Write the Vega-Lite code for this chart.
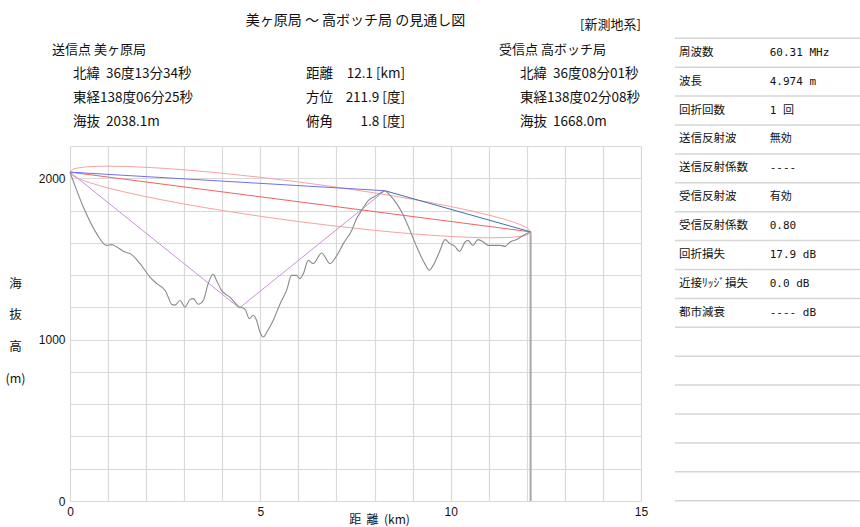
{
  "$schema": "https://vega.github.io/schema/vega-lite/v6.json",
  "width": 571,
  "height": 355,
  "autosize": {"type": "none"},
  "padding": {"left": 70, "top": 146, "right": 219, "bottom": 26},
  "background": "#ffffff",
  "config": {
    "font": "Noto Sans CJK JP",
    "view": {"stroke": null},
    "text": {"font": "Noto Sans CJK JP", "fontSize": 12, "color": "#111111"}
  },
  "datasets": {
    "profile": [
      {"d":0,"h":2038},{"d":0.35,"h":1822},{"d":0.7,"h":1657},{"d":0.96,"h":1584},{"d":1.1,"h":1589},{"d":1.23,"h":1574},{"d":1.44,"h":1543},{"d":1.58,"h":1533},{"d":1.84,"h":1471},{"d":2.1,"h":1388},{"d":2.28,"h":1347},{"d":2.5,"h":1305},{"d":2.58,"h":1264},{"d":2.67,"h":1219},{"d":2.76,"h":1214},{"d":2.89,"h":1243},{"d":3.02,"h":1202},{"d":3.15,"h":1248},{"d":3.24,"h":1254},{"d":3.37,"h":1219},{"d":3.5,"h":1243},{"d":3.63,"h":1347},{"d":3.76,"h":1405},{"d":3.85,"h":1367},{"d":3.98,"h":1305},{"d":4.2,"h":1264},{"d":4.42,"h":1208},{"d":4.6,"h":1188},{"d":4.71,"h":1130},{"d":4.81,"h":1151},{"d":4.9,"h":1120},{"d":4.99,"h":1047},{"d":5.08,"h":1016},{"d":5.17,"h":1047},{"d":5.34,"h":1120},{"d":5.52,"h":1223},{"d":5.69,"h":1305},{"d":5.82,"h":1398},{"d":5.95,"h":1398},{"d":6.04,"h":1378},{"d":6.13,"h":1409},{"d":6.26,"h":1491},{"d":6.39,"h":1471},{"d":6.61,"h":1537},{"d":6.83,"h":1471},{"d":7.01,"h":1522},{"d":7.18,"h":1595},{"d":7.4,"h":1677},{"d":7.53,"h":1750},{"d":7.66,"h":1801},{"d":7.84,"h":1863},{"d":8.06,"h":1894},{"d":8.27,"h":1921},{"d":8.41,"h":1894},{"d":8.58,"h":1843},{"d":8.76,"h":1770},{"d":8.93,"h":1677},{"d":9.11,"h":1574},{"d":9.32,"h":1471},{"d":9.44,"h":1430},{"d":9.54,"h":1460},{"d":9.72,"h":1553},{"d":9.85,"h":1620},{"d":9.98,"h":1595},{"d":10.11,"h":1578},{"d":10.23,"h":1547},{"d":10.38,"h":1605},{"d":10.46,"h":1615},{"d":10.58,"h":1584},{"d":10.72,"h":1620},{"d":10.86,"h":1605},{"d":10.99,"h":1584},{"d":11.3,"h":1584},{"d":11.43,"h":1578},{"d":11.56,"h":1605},{"d":11.73,"h":1620},{"d":11.91,"h":1646},{"d":12.1,"h":1668}
    ],
    "fresnel": [
      {"edge":"upper","d":0,"h":2038.1},{"edge":"upper","d":0.05,"h":2052.3},{"edge":"upper","d":0.1,"h":2057.2},{"edge":"upper","d":0.25,"h":2065.4},{"edge":"upper","d":0.5,"h":2071.6},{"edge":"upper","d":0.75,"h":2074.4},{"edge":"upper","d":1,"h":2075.0},{"edge":"upper","d":1.5,"h":2073.0},{"edge":"upper","d":2,"h":2068.0},{"edge":"upper","d":3,"h":2052.2},{"edge":"upper","d":4,"h":2031.2},{"edge":"upper","d":5,"h":2006.0},{"edge":"upper","d":6,"h":1977.3},{"edge":"upper","d":7,"h":1945.1},{"edge":"upper","d":8,"h":1909.5},{"edge":"upper","d":9,"h":1869.9},{"edge":"upper","d":10,"h":1825.1},{"edge":"upper","d":10.5,"h":1800.0},{"edge":"upper","d":11,"h":1772.1},{"edge":"upper","d":11.5,"h":1739.6},{"edge":"upper","d":11.65,"h":1728.2},{"edge":"upper","d":11.8,"h":1715.3},{"edge":"upper","d":11.95,"h":1699.7},{"edge":"upper","d":12,"h":1693.3},{"edge":"upper","d":12.05,"h":1685.3},{"edge":"upper","d":12.1,"h":1668.0},
      {"edge":"lower","d":0,"h":2038.1},{"edge":"lower","d":0.05,"h":2020.9},{"edge":"lower","d":0.1,"h":2012.8},{"edge":"lower","d":0.25,"h":1995.6},{"edge":"lower","d":0.5,"h":1974.0},{"edge":"lower","d":0.75,"h":1956.0},{"edge":"lower","d":1,"h":1940.0},{"edge":"lower","d":1.5,"h":1911.4},{"edge":"lower","d":2,"h":1885.8},{"edge":"lower","d":3,"h":1840.4},{"edge":"lower","d":4,"h":1800.4},{"edge":"lower","d":5,"h":1764.4},{"edge":"lower","d":6,"h":1731.9},{"edge":"lower","d":7,"h":1702.9},{"edge":"lower","d":8,"h":1677.3},{"edge":"lower","d":9,"h":1655.7},{"edge":"lower","d":10,"h":1639.3},{"edge":"lower","d":10.5,"h":1633.8},{"edge":"lower","d":11,"h":1631.1},{"edge":"lower","d":11.5,"h":1633.0},{"edge":"lower","d":11.65,"h":1635.4},{"edge":"lower","d":11.8,"h":1639.1},{"edge":"lower","d":11.95,"h":1645.5},{"edge":"lower","d":12,"h":1648.9},{"edge":"lower","d":12.05,"h":1653.9},{"edge":"lower","d":12.1,"h":1668.0}
    ],
    "paths": [
      {"series":"los","d":0,"h":2038.1},{"series":"los","d":12.1,"h":1668.0},
      {"series":"reflect","d":0,"h":2038.1},{"series":"reflect","d":4.45,"h":1196},{"series":"reflect","d":8.27,"h":1923},
      {"series":"direct","d":0,"h":2038.1},{"series":"direct","d":8.27,"h":1923},
      {"series":"diffract","d":8.27,"h":1923},{"series":"diffract","d":12.1,"h":1668.0}
    ],
    "stations": [{"name":"受信点","d":12.1,"h":1668.0}],
    "header": [
      {"col":1,"row":-1,"text":"美ヶ原局 〜 高ボッチ局 の見通し図","value":""},
      {"col":2,"row":-1,"text":"[新測地系]","value":""},
      {"col":0,"row":0,"text":"送信点 美ヶ原局","value":""},
      {"col":0,"row":1,"text":"北緯\u00a0\u00a036度13分34秒","value":""},
      {"col":0,"row":2,"text":"東経138度06分25秒","value":""},
      {"col":0,"row":3,"text":"海抜\u00a0\u00a02038.1m","value":""},
      {"col":1,"row":1,"text":"距離","value":"12.1 [km]"},
      {"col":1,"row":2,"text":"方位","value":"211.9 [度]"},
      {"col":1,"row":3,"text":"俯角","value":"1.8 [度]"},
      {"col":2,"row":0,"text":"受信点 高ボッチ局","value":""},
      {"col":2,"row":1,"text":"北緯\u00a0\u00a036度08分01秒","value":""},
      {"col":2,"row":2,"text":"東経138度02分08秒","value":""},
      {"col":2,"row":3,"text":"海抜\u00a0\u00a01668.0m","value":""}
    ],
    "table": [
      {"row":0,"label":"周波数","value":"60.31 MHz"},
      {"row":1,"label":"波長","value":"4.974 m"},
      {"row":2,"label":"回折回数","value":"\u00a0\u00a01 回"},
      {"row":3,"label":"送信反射波","value":"\u00a0\u00a0無効"},
      {"row":4,"label":"送信反射係数","value":"\u00a0\u00a0----"},
      {"row":5,"label":"受信反射波","value":"\u00a0\u00a0有効"},
      {"row":6,"label":"受信反射係数","value":"\u00a00.80"},
      {"row":7,"label":"回折損失","value":"\u00a017.9 dB"},
      {"row":8,"label":"近接ﾘｯｼﾞ損失","value":"\u00a0\u00a00.0 dB"},
      {"row":9,"label":"都市減衰","value":"\u00a0---- dB"},
      {"row":10,"label":"","value":""},
      {"row":11,"label":"","value":""},
      {"row":12,"label":"","value":""},
      {"row":13,"label":"","value":""},
      {"row":14,"label":"","value":""},
      {"row":15,"label":"","value":""}
    ]
  },
  "resolve": {"scale": {"x": "independent", "y": "independent", "color": "independent"}},
  "layer": [
    {
      "encoding": {
        "x": {"field": "d", "type": "quantitative", "scale": {"domain": [0, 15], "nice": false, "zero": false},
          "axis": {"values": [0,1,2,3,4,5,6,7,8,9,10,11,12,13,14,15], "labelExpr": "datum.value % 5 === 0 ? datum.label : ''",
            "grid": true, "gridColor": "#d9d9d9", "gridWidth": 1.2, "ticks": false, "domain": false,
            "labelFont": "Liberation Sans", "labelFontSize": 12, "labelColor": "#111111", "labelPadding": 5,
            "labelFlush": false, "labelOverlap": false, "labelBaseline": "top",
            "title": "距\u00a0\u00a0離\u00a0\u00a0(km)", "titleFont": "Noto Sans CJK JP", "titleFontSize": 12, "titleFontWeight": "normal",
            "titleColor": "#111111", "titleX": 309, "titleY": 18, "titleAlign": "center", "titleBaseline": "middle"}},
        "y": {"field": "h", "type": "quantitative", "scale": {"domain": [0, 2200], "nice": false, "zero": false},
          "axis": {"values": [0,200,400,600,800,1000,1200,1400,1600,1800,2000,2200], "labelExpr": "datum.value % 1000 === 0 ? datum.label : ''",
            "format": "d", "grid": true, "gridColor": "#d9d9d9", "gridWidth": 1.2, "ticks": false, "domain": false,
            "labelFont": "Liberation Sans", "labelFontSize": 12, "labelColor": "#111111", "labelPadding": 5,
            "labelFlush": false, "labelOverlap": false,
            "title": ["海", "抜", "高", "(m)"], "titleFont": "Noto Sans CJK JP", "titleFontSize": 12.5, "titleFontWeight": "normal",
            "titleColor": "#111111", "titleAngle": 0, "titleX": -55, "titleY": 131, "titleAlign": "center", "titleBaseline": "top", "titleLineHeight": 31.7}}
      },
      "layer": [
        {
          "data": {"name": "fresnel"},
          "mark": {"type": "line", "strokeWidth": 1, "interpolate": "monotone", "color": "#f5a3a3"},
          "encoding": {"detail": {"field": "edge", "type": "nominal"}}
        },
        {
          "data": {"name": "paths"},
          "mark": {"type": "line", "strokeWidth": 1},
          "encoding": {
            "color": {"field": "series", "type": "nominal",
              "scale": {"domain": ["los", "reflect", "direct", "diffract"], "range": ["#ef6262", "#c792dc", "#6f6ff2", "#3f72a8"]},
              "legend": null}
          }
        },
        {
          "data": {"name": "profile"},
          "mark": {"type": "line", "color": "#8a8a8a", "strokeWidth": 1.1, "interpolate": "monotone"}
        },
        {
          "data": {"name": "stations"},
          "mark": {"type": "rule", "color": "#a8a8a8", "strokeWidth": 2},
          "encoding": {"y2": {"datum": 0}}
        }
      ]
    },
    {
      "data": {"name": "header"},
      "encoding": {
        "x": {"field": "col", "type": "quantitative", "scale": {"domain": [0, 1, 2], "range": [3, 236, 450], "nice": false, "zero": false}, "axis": null},
        "y": {"field": "row", "type": "quantitative", "scale": {"domain": [0, 3], "range": [-96, -24], "nice": false, "zero": false}, "axis": null}
      },
      "layer": [
        {
          "transform": [{"filter": "datum.row > 0"}],
          "mark": {"type": "text", "align": "left", "baseline": "middle", "fontSize": 13.5},
          "encoding": {"text": {"field": "text"}}
        },
        {
          "transform": [{"filter": "datum.row == 0"}],
          "mark": {"type": "text", "align": "left", "baseline": "middle", "fontSize": 13, "dx": -21},
          "encoding": {"text": {"field": "text"}}
        },
        {
          "transform": [{"filter": "datum.value != ''"}],
          "mark": {"type": "text", "align": "right", "baseline": "middle", "fontSize": 13.5, "dx": 99},
          "encoding": {"text": {"field": "value"}}
        },
        {
          "transform": [{"filter": "datum.row == -1 && datum.col == 1"}],
          "mark": {"type": "text", "align": "center", "baseline": "middle", "fontSize": 14, "dx": 49.5, "dy": -5},
          "encoding": {"text": {"field": "text"}}
        },
        {
          "transform": [{"filter": "datum.row == -1 && datum.col == 2"}],
          "mark": {"type": "text", "align": "left", "baseline": "middle", "fontSize": 13, "dx": 60, "dy": -1},
          "encoding": {"text": {"field": "text"}}
        }
      ]
    },
    {
      "data": {"name": "table"},
      "encoding": {
        "x": {"datum": 0, "type": "quantitative", "scale": {"domain": [0, 1], "range": [605, 690.7], "nice": false, "zero": false}, "axis": null},
        "y": {"field": "row", "type": "quantitative", "scale": {"domain": [0, 16], "range": [-107.7, 354.7], "nice": false, "zero": false}, "axis": null}
      },
      "layer": [
        {
          "mark": {"type": "rule", "color": "#d6d6d6", "strokeWidth": 1.5},
          "encoding": {"x2": {"datum": 3}}
        },
        {
          "data": {"values": [{"edge": 16}]},
          "mark": {"type": "rule", "color": "#d6d6d6", "strokeWidth": 1.5},
          "encoding": {"y": {"field": "edge", "type": "quantitative"}, "x2": {"datum": 3}}
        },
        {
          "data": {"values": [{"c": 0}, {"c": 1}]},
          "mark": {"type": "rule", "color": "#d6d6d6", "strokeWidth": 1.5},
          "encoding": {"x": {"field": "c", "type": "quantitative"}, "y": {"datum": 0, "type": "quantitative"}, "y2": {"datum": 16}}
        },
        {
          "mark": {"type": "text", "align": "left", "baseline": "middle", "fontSize": 11.5, "dx": 4, "dy": 14.45},
          "encoding": {"text": {"field": "label"}}
        },
        {
          "mark": {"type": "text", "align": "left", "baseline": "middle", "fontSize": 11, "font": "DejaVu Sans Mono, Noto Sans CJK JP", "dx": 9, "dy": 14.45},
          "encoding": {"x": {"datum": 1, "type": "quantitative"}, "text": {"field": "value"}}
        },
        {
          "data": {"values": [{"part": "frame"}]},
          "mark": {"type": "rule", "color": "#111111", "strokeWidth": 2},
          "encoding": {"x": {"datum": -7.771, "type": "quantitative"}, "y": {"datum": -0.979, "type": "quantitative"}, "y2": {"datum": 18}}
        },
        {
          "data": {"values": [{"part": "frame"}]},
          "mark": {"type": "rule", "color": "#111111", "strokeWidth": 2},
          "encoding": {"x": {"datum": -7.771, "type": "quantitative"}, "x2": {"datum": 3}, "y": {"datum": -0.979, "type": "quantitative"}}
        }
      ]
    }
  ]
}
